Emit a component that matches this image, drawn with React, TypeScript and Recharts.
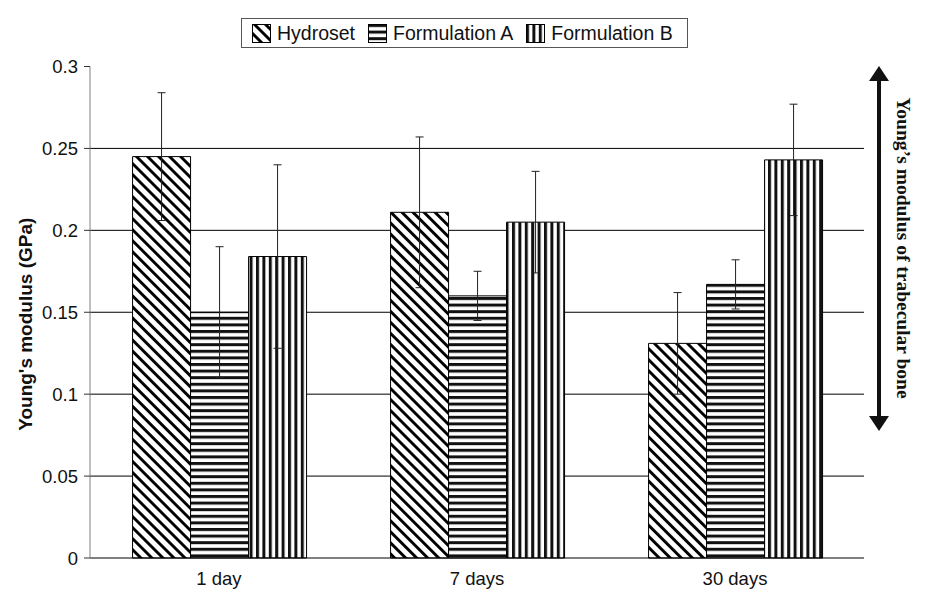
import React from 'react';
import { BarChart, Bar, XAxis, YAxis, CartesianGrid, Legend, ErrorBar, Label } from 'recharts';

const categories = ['1 day', '7 days', '30 days'];
const hydroset = [0.245, 0.211, 0.131];
const hydrosetErr = [0.039, 0.046, 0.031];
const formulationA = [0.150, 0.160, 0.167];
const formulationAErr = [0.040, 0.015, 0.015];
const formulationB = [0.184, 0.205, 0.243];
const formulationBErr = [0.056, 0.031, 0.034];
const yTicks = [0, 0.05, 0.1, 0.15, 0.2, 0.25, 0.3];
const gridValues = [0.05, 0.1, 0.15, 0.2, 0.25];
const seriesNames = ['Hydroset', 'Formulation A', 'Formulation B'];
const patternIds = ['patDiag', 'patHoriz', 'patVert'];
const boundaryTicks = [0, 1, 2, 3];

const data = categories.map((c, i) => ({
  name: c,
  h: hydroset[i],
  hErr: hydrosetErr[i],
  a: formulationA[i],
  aErr: formulationAErr[i],
  b: formulationB[i],
  bErr: formulationBErr[i],
}));

const Patterns = () => (
  <svg width={0} height={0} style={{ position: 'absolute', left: 0, top: 0 }}>
    <defs>
      <pattern id="patDiag" patternUnits="userSpaceOnUse" width={7.8} height={7.8} patternTransform="rotate(-45)">
        <rect x={0} y={0} width={7.8} height={7.8} fill="#fff" />
        <rect x={0} y={0} width={2.9} height={7.8} fill="#000" />
      </pattern>
      <pattern id="patHoriz" patternUnits="userSpaceOnUse" width={6.6} height={6.6}>
        <rect x={0} y={0} width={6.6} height={6.6} fill="#fff" />
        <rect x={0} y={0} width={6.6} height={3} fill="#111" />
      </pattern>
      <pattern id="patVert" patternUnits="userSpaceOnUse" width={6.4} height={6.4}>
        <rect x={0} y={0} width={6.4} height={6.4} fill="#fff" />
        <rect x={0} y={0} width={3} height={6.4} fill="#111" />
      </pattern>
    </defs>
  </svg>
);

const renderLegend = () => (
  <div style={{ height: 48.5, position: 'relative' }}>
    <div
      style={{
        position: 'absolute',
        left: 241,
        top: 0,
        width: 447,
        height: 30,
        border: '1px solid #555',
        boxSizing: 'border-box',
        display: 'flex',
        alignItems: 'center',
        fontFamily: '"Liberation Sans", Arial, sans-serif',
        fontSize: 19.5,
        color: '#111',
        whiteSpace: 'nowrap',
      }}
    >
      {seriesNames.map((n, i) => (
        <div key={n} style={{ display: 'flex', alignItems: 'center', marginLeft: i === 0 ? 10 : 13 }}>
          <svg width={19} height={19}>
            <rect x={0.5} y={0.5} width={18} height={18} fill={`url(#${patternIds[i]})`} stroke="#000" />
          </svg>
          <span style={{ marginLeft: 6 }}>{n}</span>
        </div>
      ))}
    </div>
  </div>
);

const renderYLabel = (props: any) => {
  const vb = props.viewBox || { x: 0, y: 66, width: 90, height: 492 };
  const cx = vb.x + 25;
  const cy = vb.y + vb.height / 2 + 12;
  return (
    <text
      x={cx}
      y={cy}
      transform={`rotate(-90 ${cx} ${cy})`}
      textAnchor="middle"
      dominantBaseline="central"
      fontFamily='"Liberation Sans", Arial, sans-serif'
      fontWeight="bold"
      fontSize={19}
      fill="#111"
    >
      Young's modulus (GPa)
    </text>
  );
};

export default function App() {
  return (
    <div style={{ position: 'absolute', left: 0, top: 0, width: 925, height: 592, background: '#fff' }}>
      <Patterns />
      <BarChart
        width={925}
        height={592}
        data={data}
        margin={{ top: 18, right: 61, bottom: 0, left: 0 }}
        barCategoryGap="16.5%"
        barGap={0}
      >
        <CartesianGrid xAxisId="b" vertical={false} stroke="#000" strokeWidth={1} horizontalValues={gridValues} />
        <Legend verticalAlign="top" content={renderLegend} wrapperStyle={{ left: 0, width: 925 }} />
        <XAxis
          xAxisId="b"
          dataKey="name"
          height={33}
          tickLine={false}
          tickSize={6}
          tickMargin={7}
          axisLine={false}
          tick={{ fill: '#111', fontSize: 18.5, fontFamily: '"Liberation Sans", Arial, sans-serif' }}
        />
        <XAxis
          xAxisId="a"
          type="number"
          domain={[0, 3]}
          ticks={boundaryTicks}
          height={1}
          axisLine={{ stroke: '#000' }}
          tick={false}
          tickSize={6}
          tickLine={{ stroke: '#000' }}
          allowDataOverflow
        />
        <YAxis
          domain={[0, 0.3]}
          ticks={yTicks}
          width={90}
          tickSize={6}
          tickMargin={6}
          axisLine={{ stroke: '#808080' }}
          tickLine={{ stroke: '#333' }}
          tick={{ fill: '#111', fontSize: 18.5, fontFamily: '"Liberation Sans", Arial, sans-serif' }}
          tickFormatter={(v: number) => String(v)}
          label={<Label content={renderYLabel} />}
        />
        <Bar xAxisId="b" dataKey="h" fill="url(#patDiag)" stroke="#000" strokeWidth={1} isAnimationActive={false}>
          <ErrorBar dataKey="hErr" width={4} stroke="#222" strokeWidth={1} />
        </Bar>
        <Bar xAxisId="b" dataKey="a" fill="url(#patHoriz)" stroke="#000" strokeWidth={1} isAnimationActive={false}>
          <ErrorBar dataKey="aErr" width={4} stroke="#222" strokeWidth={1} />
        </Bar>
        <Bar xAxisId="b" dataKey="b" fill="url(#patVert)" stroke="#000" strokeWidth={1} isAnimationActive={false}>
          <ErrorBar dataKey="bErr" width={4} stroke="#222" strokeWidth={1} />
        </Bar>
      </BarChart>
      <svg width={925} height={592} style={{ position: 'absolute', left: 0, top: 0, pointerEvents: 'none' }}>
        <line x1={879} y1={78} x2={879} y2={419} stroke="#111" strokeWidth={4} />
        <polygon points="879,66 869,81 889,81" fill="#111" />
        <polygon points="879,431 869,416 889,416" fill="#111" />
        <text
          x={903}
          y={248}
          transform="rotate(90 903 248)"
          textAnchor="middle"
          dominantBaseline="central"
          fontFamily='"Liberation Serif", "Times New Roman", serif'
          fontWeight="bold"
          fontSize={19.5}
          fill="#111"
        >
          Young’s modulus of trabecular bone
        </text>
      </svg>
    </div>
  );
}
